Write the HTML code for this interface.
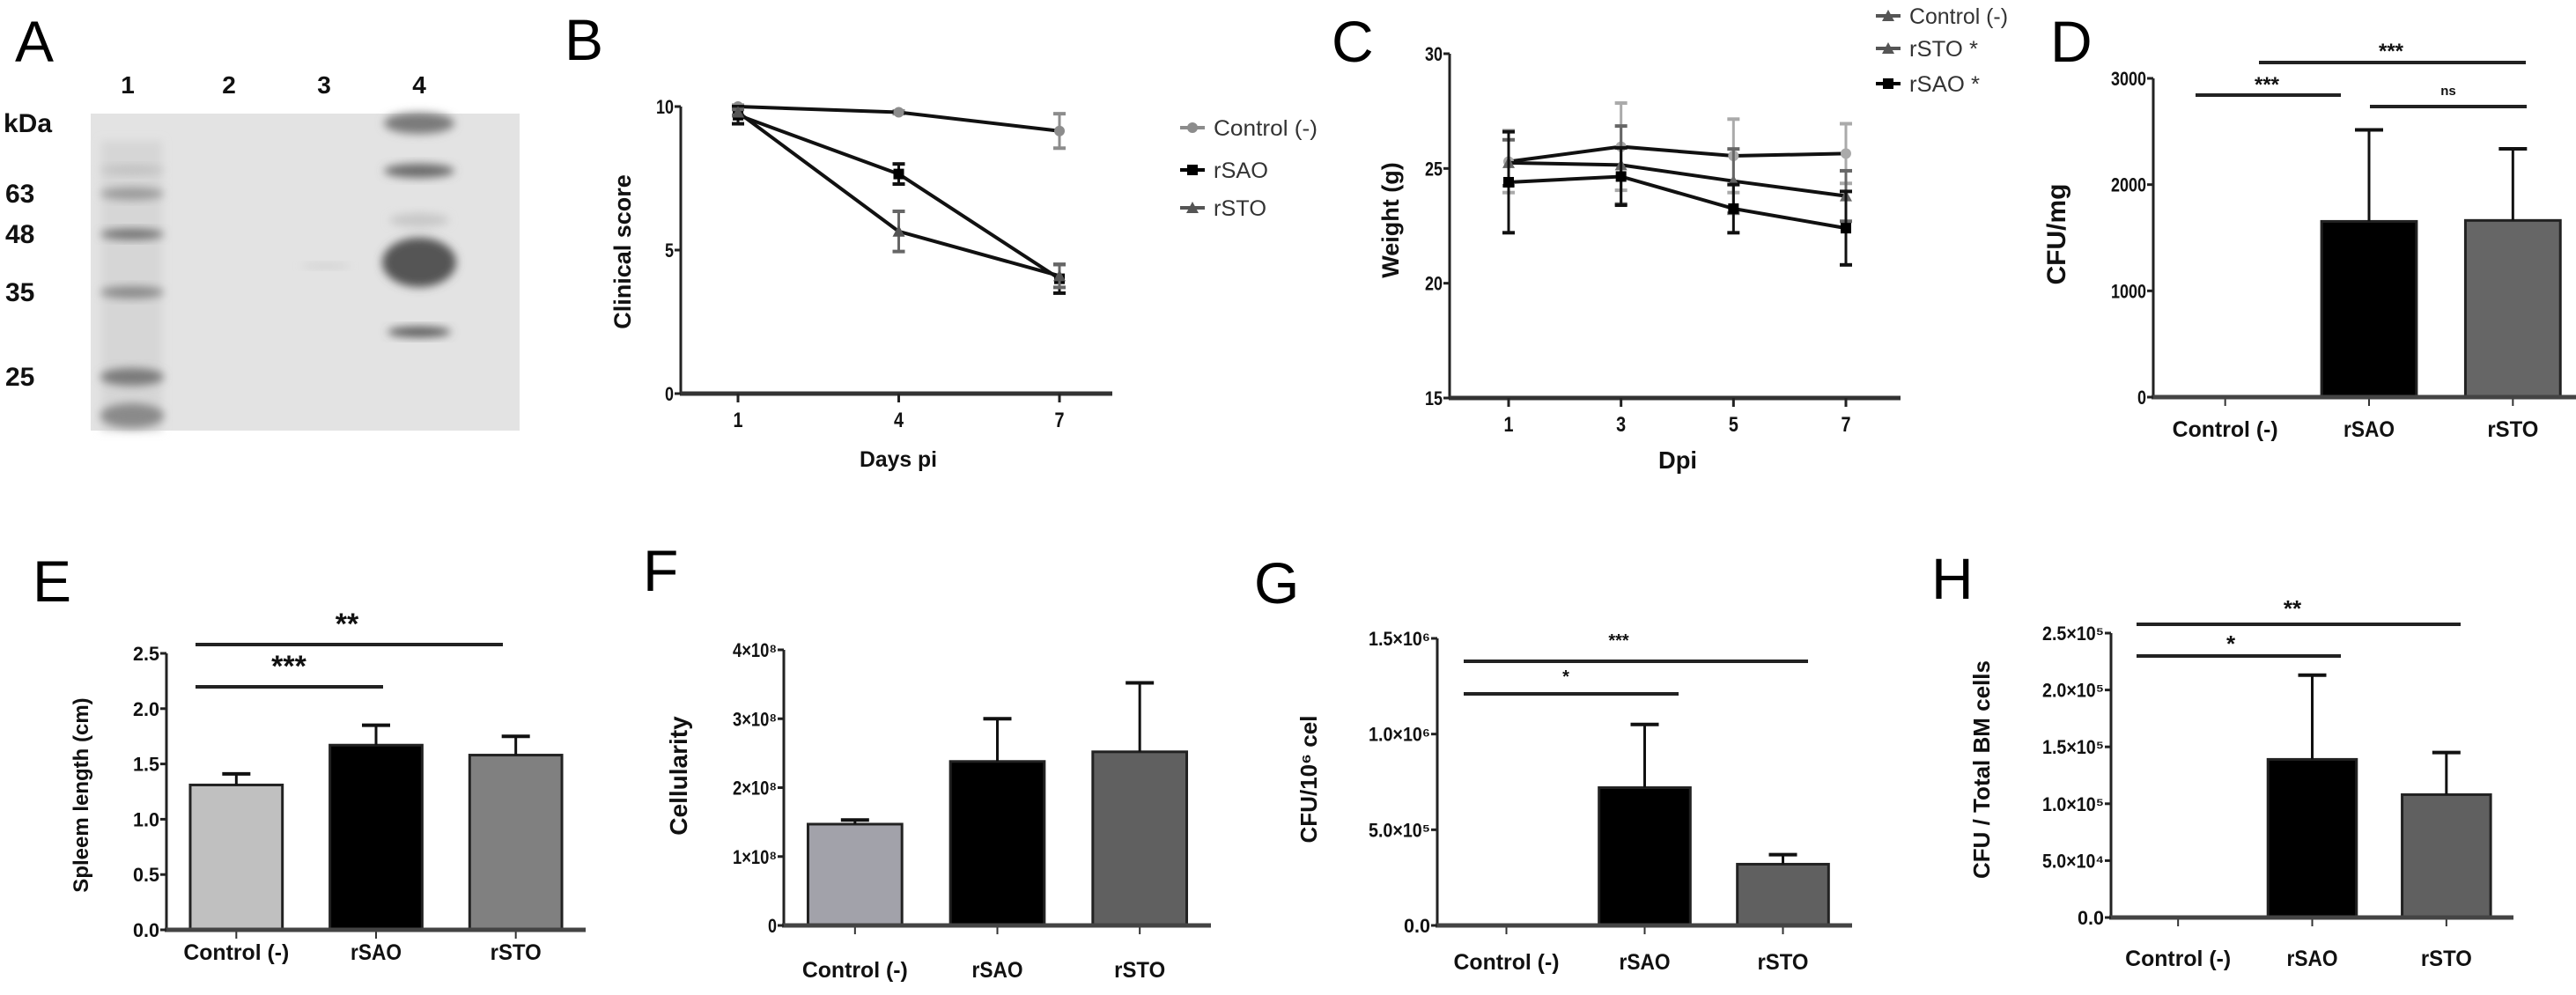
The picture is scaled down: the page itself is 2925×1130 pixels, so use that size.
<!DOCTYPE html>
<html><head><meta charset="utf-8">
<style>
html,body{margin:0;padding:0;background:#fff;}
svg{display:block;}
text{font-family:"Liberation Sans",sans-serif;}
</style></head>
<body>
<svg id="fig" xmlns="http://www.w3.org/2000/svg" width="2925" height="1130" viewBox="0 0 2925 1130">
<defs>
<filter id="blur" x="-50%" y="-50%" width="200%" height="200%"><feGaussianBlur stdDeviation="5"/></filter>
</defs>
<g id="root"></g>
</svg>
<script>
// ---- Panel B data ----
const bDays = [1, 4, 7];
const bControl = [10, 9.8, 9.15];
const bControlErr = [0.05, 0.05, 0.6];
const bSAO = [9.7, 7.65, 4.0];
const bSAOErr = [0.3, 0.35, 0.5];
const bSTO = [9.8, 5.65, 4.1];
const bSTOErr = [0.1, 0.7, 0.4];
const bTicksY = [0, 5, 10];
// ---- Panel C data ----
const cDays = [1, 3, 5, 7];
const cControl = [25.3, 25.95, 25.55, 25.65];
const cControlErr = [1.35, 1.9, 1.6, 1.3];
const cSTO = [25.25, 25.15, 24.45, 23.8];
const cSTOErr = [1.0, 1.7, 1.4, 1.1];
const cSAO = [24.4, 24.65, 23.25, 22.4];
const cSAOErr = [2.2, 1.25, 1.05, 1.6];
const cTicksY = [15, 20, 25, 30];
// ---- Bar panels ----
const categories = ["Control (-)", "rSAO", "rSTO"];
const dValues = [0, 1654, 1663];
const dErrTop = [0, 2515, 2337];
const dTicks = [0, 1000, 2000, 3000];
const dTickLabels = ["0", "1000", "2000", "3000"];
const eValues = [1.31, 1.67, 1.58];
const eErrTop = [1.41, 1.85, 1.75];
const eTicks = [0, 0.5, 1.0, 1.5, 2.0, 2.5];
const eTickLabels = ["0.0", "0.5", "1.0", "1.5", "2.0", "2.5"];
const fValues = [1.47e8, 2.38e8, 2.52e8];
const fErrTop = [1.53e8, 3.0e8, 3.52e8];
const fTicks = [0, 1e8, 2e8, 3e8, 4e8];
const fTickLabels = ["0", "1×10⁸", "2×10⁸", "3×10⁸", "4×10⁸"];
const gValues = [0, 0.72e6, 0.32e6];
const gErrTop = [0, 1.05e6, 0.37e6];
const gTicks = [0, 5e5, 1e6, 1.5e6];
const gTickLabels = ["0.0", "5.0×10⁵", "1.0×10⁶", "1.5×10⁶"];
const hValues = [0, 1.39e5, 1.08e5];
const hErrTop = [0, 2.13e5, 1.45e5];
const hTicks = [0, 5e4, 1e5, 1.5e5, 2e5, 2.5e5];
const hTickLabels = ["0.0", "5.0×10⁴", "1.0×10⁵", "1.5×10⁵", "2.0×10⁵", "2.5×10⁵"];

const NS = "http://www.w3.org/2000/svg";
const root = document.getElementById("root");
function mk(tag, attrs, parent) {
  const e = document.createElementNS(NS, tag);
  for (const k in attrs) e.setAttribute(k, attrs[k]);
  (parent || root).appendChild(e);
  return e;
}
function txt(s, x, y, size, opts, parent) {
  opts = opts || {};
  const t = mk("text", {x: x, y: y, "font-size": size, "text-anchor": opts.anchor || "middle",
    "font-weight": opts.weight || "bold", fill: opts.fill || "#111"}, parent);
  if (opts.rot) t.setAttribute("transform", "rotate(-90 " + x + " " + y + ")");
  if (opts.len) { t.setAttribute("textLength", opts.len); t.setAttribute("lengthAdjust", "spacingAndGlyphs"); }
  t.textContent = s;
  return t;
}
function line(x1, y1, x2, y2, stroke, w, parent) {
  return mk("line", {x1: x1, y1: y1, x2: x2, y2: y2, stroke: stroke, "stroke-width": w}, parent);
}
function panelLetter(s, x, y) {
  const t = txt(s, x, y, 66, {anchor: "start", weight: "normal", fill: "#000"});
  
  
}

// ---------- Panel A (gel) ----------
panelLetter("A", 17, 70);
const gA = mk("g", {});


mk("rect", {x: 103, y: 129, width: 487, height: 360, fill: "#e3e3e3"}, gA);
mk("rect", {x: 115, y: 160, width: 69, height: 329, fill: "#d6d6d6", filter: "url(#blur)"}, gA);
[[220, 7, "#9a9a9a"], [266, 6, "#707070"], [332, 7, "#8a8a8a"], [428, 10, "#7a7a7a"], [472, 14, "#8a8a8a"], [193, 5, "#c0c0c0"]].forEach(b => {
  mk("ellipse", {cx: 150, cy: b[0], rx: 36, ry: b[1], fill: b[2], filter: "url(#blur)"}, gA);
});
mk("ellipse", {cx: 476, cy: 140, rx: 40, ry: 12, fill: "#7a7a7a", filter: "url(#blur)"}, gA);
mk("ellipse", {cx: 476, cy: 194, rx: 40, ry: 8, fill: "#6a6a6a", filter: "url(#blur)"}, gA);
mk("ellipse", {cx: 476, cy: 250, rx: 34, ry: 8, fill: "#c8c8c8", filter: "url(#blur)"}, gA);
mk("ellipse", {cx: 476, cy: 298, rx: 42, ry: 28, fill: "#555", filter: "url(#blur)"}, gA);
mk("ellipse", {cx: 476, cy: 377, rx: 36, ry: 6, fill: "#5a5a5a", filter: "url(#blur)"}, gA);
mk("ellipse", {cx: 370, cy: 302, rx: 28, ry: 3, fill: "#cfcfcf", filter: "url(#blur)"}, gA);
["1", "2", "3", "4"].forEach((s, i) => {
  const t = txt(s, [145, 260, 368, 476][i], 106, 28, {});
  
  
});
const kda = txt("kDa", 4, 150, 30, {anchor: "start"});


[["63", 230], ["48", 276], ["35", 342], ["25", 438]].forEach(m => {
  const t = txt(m[0], 6, m[1], 30, {anchor: "start"});
  
  
});

// ---------- line chart helper ----------
function lineChart(cfg) {
  const g = mk("g", {});
  
  
  const sx = d => cfg.x0 + (d - cfg.dmin) / (cfg.dmax - cfg.dmin) * (cfg.x1 - cfg.x0);
  const sy = v => cfg.yb + (v - cfg.vmin) / (cfg.vmax - cfg.vmin) * (cfg.yt - cfg.yb);
  line(cfg.axX, sy(cfg.vmax), cfg.axX, sy(cfg.vmin) + 1, "#222", 3, g);
  line(cfg.axX - 1, sy(cfg.vmin), cfg.axEnd, sy(cfg.vmin), "#333", 5, g);
  cfg.ticksY.forEach(v => {
    line(cfg.axX - 7, sy(v), cfg.axX, sy(v), "#222", 3, g);
    const t = txt(String(v), cfg.axX - 8, sy(v) + 8, 22, {anchor: "end", len: String(v).length * 10});
    
    
  });
  cfg.days.forEach(d => {
    line(sx(d), sy(cfg.vmin), sx(d), sy(cfg.vmin) + 10, "#222", 3, g);
    const t = txt(String(d), sx(d), sy(cfg.vmin) + 38, 24, {len: 11});
    
    
  });
  cfg.series.forEach(s => {
    const sg = mk("g", {}, g);
    
    
    s.vals.forEach((v, i) => {
      const x = sx(cfg.days[i]);
      const e = s.err[i];
      line(x, sy(v - e), x, sy(v + e), s.errColor, 3, sg);
      line(x - 7, sy(v + e), x + 7, sy(v + e), s.errColor, 4, sg);
      line(x - 7, sy(v - e), x + 7, sy(v - e), s.errColor, 4, sg);
    });
    const pts = s.vals.map((v, i) => sx(cfg.days[i]) + "," + sy(v)).join(" ");
    const pl = mk("polyline", {points: pts, fill: "none", stroke: "#111", "stroke-width": 4}, sg);
    
    
    s.vals.forEach((v, i) => {
      const x = sx(cfg.days[i]), y = sy(v);
      let m;
      if (s.marker === "circle") m = mk("circle", {cx: x, cy: y, r: 6, fill: s.color}, sg);
      else if (s.marker === "square") m = mk("rect", {x: x - 6, y: y - 6, width: 12, height: 12, fill: s.color}, sg);
      else m = mk("polygon", {points: (x) + "," + (y - 7) + " " + (x - 7) + "," + (y + 6) + " " + (x + 7) + "," + (y + 6), fill: s.color}, sg);
      
      
    });
  });
  const xt = txt(cfg.xTitle, cfg.xTitleX, cfg.xTitleY, cfg.xTitleSize, {len: cfg.xTitleLen});
  
  
  const yt = txt(cfg.yTitle, cfg.yTitleX, cfg.yTitleY, 27, {rot: true});
  
  
  cfg.legend.forEach((l, i) => {
    const lg = mk("g", {}, g);
    
    
    const y = cfg.legY[i];
    line(cfg.legX - 14, y, cfg.legX + 14, y, l.color, 4, lg);
    if (l.marker === "circle") mk("circle", {cx: cfg.legX, cy: y, r: 6, fill: l.color}, lg);
    else if (l.marker === "square") mk("rect", {x: cfg.legX - 6, y: y - 6, width: 12, height: 12, fill: l.color}, lg);
    else mk("polygon", {points: cfg.legX + "," + (y - 7) + " " + (cfg.legX - 7) + "," + (y + 6) + " " + (cfg.legX + 7) + "," + (y + 6), fill: l.color}, lg);
    txt(l.label, cfg.legX + 24, y + 9, 25, {anchor: "start", weight: "normal", fill: "#333", len: l.len}, lg);
  });
}

panelLetter("B", 641, 68);
lineChart({name: "chart-b-clinical-score", x0: 838, x1: 1203, dmin: 1, dmax: 7, yb: 447, yt: 121, vmin: 0, vmax: 10,
  axX: 773, axEnd: 1263, ticksY: bTicksY, days: bDays,
  series: [
    {key: "control", vals: bControl, err: bControlErr, color: "#8c8c8c", errColor: "#8c8c8c", marker: "circle"},
    {key: "rsao", vals: bSAO, err: bSAOErr, color: "#000", errColor: "#111", marker: "square"},
    {key: "rsto", vals: bSTO, err: bSTOErr, color: "#555", errColor: "#666", marker: "tri"}],
  xTitle: "Days pi", xTitleX: 1020, xTitleY: 530, xTitleSize: 25, xTitleLen: 88,
  yTitle: "Clinical score", yTitleX: 716, yTitleY: 286,
  legX: 1354, legY: [145, 193, 236],
  legend: [{key: "control", label: "Control (-)", color: "#8c8c8c", marker: "circle", len: 118},
    {key: "rsao", label: "rSAO", color: "#000", marker: "square", len: 62},
    {key: "rsto", label: "rSTO", color: "#555", marker: "tri", len: 60}]
});

panelLetter("C", 1512, 70);
lineChart({name: "chart-c-weight", x0: 1713, x1: 2096, dmin: 1, dmax: 7, yb: 452, yt: 61, vmin: 15, vmax: 30,
  axX: 1646, axEnd: 2158, ticksY: cTicksY, days: cDays,
  series: [
    {key: "control", vals: cControl, err: cControlErr, color: "#aaa", errColor: "#aaa", marker: "circle"},
    {key: "rsto", vals: cSTO, err: cSTOErr, color: "#666", errColor: "#666", marker: "tri"},
    {key: "rsao", vals: cSAO, err: cSAOErr, color: "#000", errColor: "#111", marker: "square"}],
  xTitle: "Dpi", xTitleX: 1905, xTitleY: 532, xTitleSize: 28, xTitleLen: 44,
  yTitle: "Weight  (g)", yTitleX: 1588, yTitleY: 250,
  legX: 2144, legY: [18, 55, 95],
  legend: [{key: "control", label: "Control (-)", color: "#555", marker: "tri", len: 112},
    {key: "rsto", label: "rSTO *", color: "#555", marker: "tri", len: 78},
    {key: "rsao", label: "rSAO *", color: "#000", marker: "square", len: 80}]
});

// ---------- bar chart helper ----------
function barChart(cfg) {
  const g = mk("g", {});
  
  
  const sy = v => cfg.yb + (v - cfg.ticks[0]) / (cfg.ticks[cfg.ticks.length - 1] - cfg.ticks[0]) * (cfg.yt - cfg.yb);
  const band = (cfg.x1 - cfg.x0) / categories.length;
  const cx = i => cfg.x0 + band * (i + 0.5);
  const bw = band * 0.66;
  categories.forEach((c, i) => {
    const v = cfg.values[i];
    if (v > 0) {
      const b = mk("rect", {x: cx(i) - bw / 2, y: sy(v), width: bw, height: sy(0) - sy(v), fill: cfg.colors[i], stroke: "#222", "stroke-width": 3}, g);
      
      
      const e = line(cx(i), sy(v), cx(i), sy(cfg.err[i]), "#111", 3, g);
      
      
      line(cx(i) - 16, sy(cfg.err[i]), cx(i) + 16, sy(cfg.err[i]), "#111", 4, g);
    }
    line(cx(i), sy(0), cx(i), sy(0) + 10, "#333", 2, g);
    const t = txt(c, cx(i), cfg.labY, 25, {len: c.length > 5 ? 120 : 58});
    
    
  });
  line(cfg.x0, sy(cfg.ticks[cfg.ticks.length - 1]), cfg.x0, sy(0) + 2, "#222", 3, g);
  line(cfg.x0 - 2, sy(0), cfg.x1, sy(0), "#444", 5, g);
  cfg.ticks.forEach((v, i) => {
    line(cfg.x0 - 7, sy(v), cfg.x0, sy(v), "#222", 3, g);
    const s = cfg.tickLabels[i];
    const t = txt(s, cfg.x0 - 8, sy(v) + 8, 22, {anchor: "end", len: s.length * 10});
    
    
  });
  const yt = txt(cfg.yTitle, cfg.yTitleX, cfg.yTitleY, cfg.yTitleSize || 27, {rot: true});
  
  
  cfg.sig.forEach(s => {
    const sg = mk("g", {}, g);
    
    
    line(s[0], s[2], s[1], s[2], "#222", 4, sg);
    txt(s[3], s[4], s[5], s[6], {}, sg);
  });
}

panelLetter("D", 2328, 70);
barChart({name: "chart-d-cfu-mg", x0: 2445, x1: 2935, yb: 451, yt: 89, values: dValues, err: dErrTop,
  ticks: dTicks, tickLabels: dTickLabels, colors: ["#bbb", "#000", "#666"], labY: 496,
  yTitle: "CFU/mg", yTitleX: 2345, yTitleY: 266, yTitleSize: 30,
  sig: [[2493, 2658, 108, "***", 2574, 104, 24], [2565, 2868, 71, "***", 2715, 66, 24], [2691, 2869, 121, "ns", 2780, 108, 15]]});

panelLetter("E", 37, 683);
barChart({name: "chart-e-spleen-length", x0: 189, x1: 665, yb: 1056, yt: 742, values: eValues, err: eErrTop,
  ticks: eTicks, tickLabels: eTickLabels, colors: ["#c0c0c0", "#000", "#808080"], labY: 1090,
  yTitle: "Spleem length (cm)", yTitleX: 100, yTitleY: 903, yTitleSize: 24,
  sig: [[222, 435, 780, "***", 328, 768, 34], [222, 571, 732, "**", 394, 720, 34]]});

panelLetter("F", 730, 671);
barChart({name: "chart-f-cellularity", x0: 890, x1: 1375, yb: 1051, yt: 738, values: fValues, err: fErrTop,
  ticks: fTicks, tickLabels: fTickLabels, colors: ["#a2a2aa", "#000", "#606060"], labY: 1110,
  yTitle: "Cellularity", yTitleX: 780, yTitleY: 881, yTitleSize: 28, sig: []});

panelLetter("G", 1424, 685);
barChart({name: "chart-g-cfu-per-million", x0: 1632, x1: 2103, yb: 1051, yt: 725, values: gValues, err: gErrTop,
  ticks: gTicks, tickLabels: gTickLabels, colors: ["#bbb", "#000", "#606060"], labY: 1101,
  yTitle: "CFU/10⁶ cel", yTitleX: 1495, yTitleY: 885, yTitleSize: 26,
  sig: [[1662, 2053, 751, "***", 1838, 734, 20], [1662, 1906, 788, "*", 1778, 775, 20]]});

panelLetter("H", 2193, 680);
barChart({name: "chart-h-cfu-total-bm", x0: 2397, x1: 2854, yb: 1042, yt: 719, values: hValues, err: hErrTop,
  ticks: hTicks, tickLabels: hTickLabels, colors: ["#bbb", "#000", "#606060"], labY: 1097,
  yTitle: "CFU / Total BM cells", yTitleX: 2259, yTitleY: 874, yTitleSize: 26,
  sig: [[2426, 2794, 709, "**", 2603, 700, 26], [2426, 2658, 745, "*", 2533, 740, 26]]});
</script>
</body></html>
